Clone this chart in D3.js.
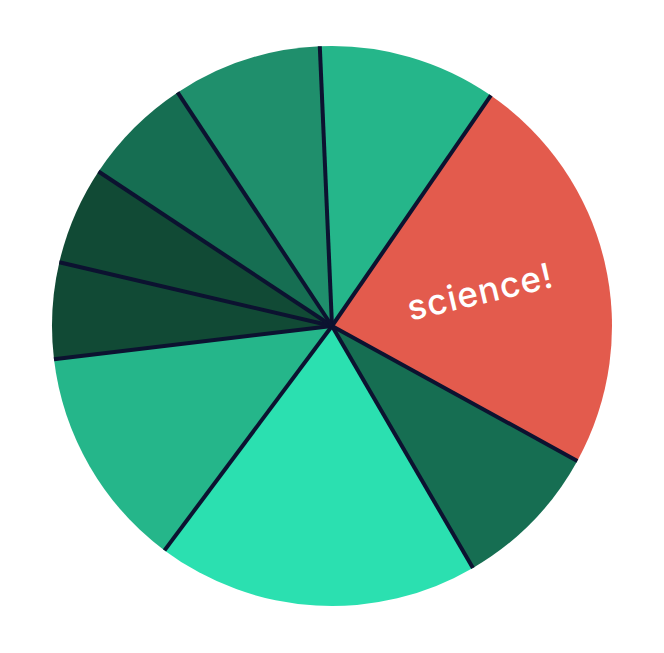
<!DOCTYPE html>
<html><head><meta charset="utf-8">
<script src="https://cdn.jsdelivr.net/npm/d3@7"></script>
<style>html,body{margin:0;padding:0;background:#fff;}</style>
</head><body>
<svg id="chart" width="664" height="653"></svg>
<script>
const labels = ["a","science!","c","d","e","f","g","h","i"];
const values = [10.3, 23.4, 8.6, 18.6, 12.9, 5.55, 5.65, 6.4, 8.6];
const colors = ["#25b68a","#e35b4d","#166e52","#2be0b0","#25b68a","#114a35","#114a35","#166e52","#1f8f6c"];
const shown = [false,true,false,false,false,false,false,false,false];
const startDeg = -2.5;

const svg = d3.select("#chart");
const cx = 332, cy = 326, R = 280;
const g = svg.append("g").attr("transform", `translate(${cx},${cy})`);
const pie = d3.pie().sort(null).value(d => d)
  .startAngle(startDeg*Math.PI/180).endAngle((startDeg+360)*Math.PI/180);
const arcs = pie(values);
const arc = d3.arc().innerRadius(0).outerRadius(R);
g.selectAll("path.slice").data(arcs).enter().append("path")
  .attr("class","slice").attr("d", arc).attr("fill",(d,i)=>colors[i]);
g.selectAll("line.sep").data(arcs).enter().append("line")
  .attr("class","sep")
  .attr("x1",0).attr("y1",0)
  .attr("x2",d=>R*Math.sin(d.startAngle)).attr("y2",d=>-R*Math.cos(d.startAngle))
  .attr("stroke","#0c1230").attr("stroke-width",4);
const lr = 152;
g.selectAll("text.lbl").data(arcs.filter((d,i)=>shown[i])).enter().append("text")
  .attr("class","lbl")
  .attr("transform", d => {
    const a = (d.startAngle+d.endAngle)/2;
    const x = lr*Math.sin(a), y = -lr*Math.cos(a);
    return `translate(${x},${y}) rotate(${a*180/Math.PI-90})`;
  })
  .attr("text-anchor","middle").attr("dominant-baseline","central")
  .attr("fill","#fff").attr("font-family","Inter, 'Open Sans', sans-serif")
  .attr("font-weight",500).attr("font-size",35).attr("letter-spacing",1)
  .text((d)=>labels[d.index]);
</script>
</body></html>
